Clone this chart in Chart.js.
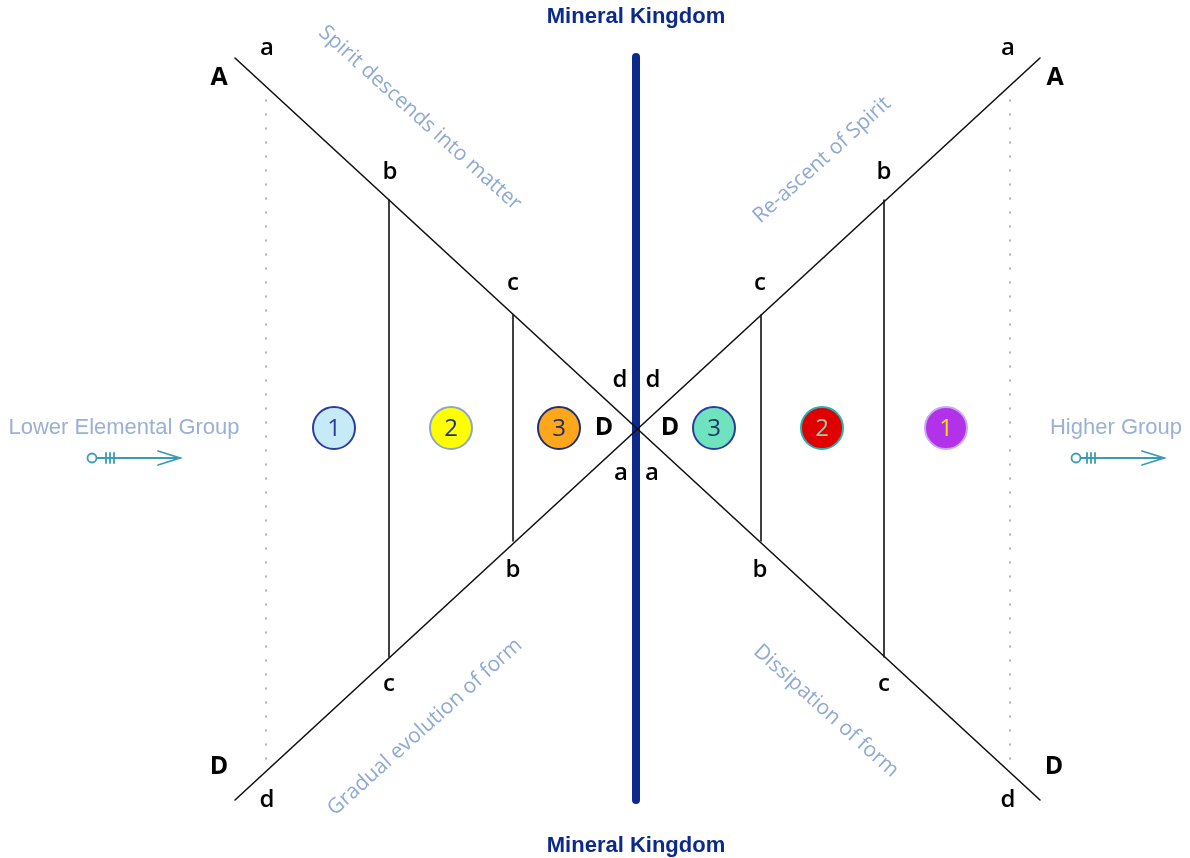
<!DOCTYPE html>
<html>
<head>
<meta charset="utf-8">
<script src="https://cdn.jsdelivr.net/npm/chart.js@4"></script>
<style>
  html, body { margin: 0; padding: 0; background: #fff; }
  #wrap { width: 1190px; height: 858px; }
</style>
</head>
<body>
<div id="wrap"><canvas id="diagram"></canvas></div>
<script>
// diagram units: centre of the cross is (0,0), y up
const descLine = [{x: -401, y: 370}, {x: 404, y: -372}];
const ascLine = [{x: -401, y: -372}, {x: 404, y: 370}];
const rungX = [-247, -123, 125, 248];
const rungTop = [228, 113, 113, 228];
const rungBottom = [-229, -113, -113, -229];
const dottedX = [-370, 374];
const dottedTop = 328, dottedBottom = -332;
const axisLine = [{x: 0, y: 371}, {x: 0, y: -372}];

const circleX = [-302, -185, -77, 78, 186, 310];
const circleNums = ['1', '2', '3', '3', '2', '1'];
const circleFill = ['#c6eaf8', '#ffff00', '#ffa71c', '#6fe3bf', '#e00000', '#b232e9'];
const circleEdge = ['#2b3c9c', '#8ea6c8', '#1f3170', '#2b3c9c', '#22b3b3', '#c9a8f2'];
const circleText = ['#2a3a98', '#1f2f80', '#1f2f60', '#1f3a60', '#a2c9ab', '#f8e400'];

const letters = ['A', 'a', 'b', 'c', 'd', 'd', 'D', 'D', 'a', 'a', 'b', 'c', 'D', 'd',
                 'a', 'A', 'b', 'c', 'b', 'c', 'D', 'd'];
const letterX = [-417, -369, -246, -123, -16, 17, -32, 34, -15, 16, -123, -247, -417, -369,
                 372, 419, 248, 124, 124, 248, 418, 372];
const letterY = [350, 380, 256, 145, 48, 48, 0, 0, -45, -45, -142, -256, -339, -372,
                 380, 350, 256, 145, -142, -256, -339, -372];

const slantText = ['Spirit descends into matter', 'Re-ascent of Spirit', 'Gradual evolution of form', 'Dissipation of form'];
const slantX = [-216, 186, -211, 190];
const slantY = [310, 268, -299, -283];
const slantAngle = [42, -42, -42, 42];

const sideText = ['Lower Elemental Group', 'Higher Group'];
const sideX = [-512, 480];
const arrowStart = [-544, 440];
const arrowEnd = [-456, 528];
const arrowTicks = [[-530, -526, -522], [451, 455, 459]];
const arrowY = -30;

const kingdomText = 'Mineral Kingdom';
const kingdomY = [411, -418];

const navy = '#0b2a8c';
const paleBlue = '#8ea9d2';
const teal = '#3b9bb4';

function seg(x1, y1, x2, y2) {
    return [{x: x1, y: y1}, {x: x2, y: y2}];
}

const datasets = [];
function addLine(data, color, width, dash) {
    datasets.push({
        data: data, showLine: true, pointRadius: 0, borderColor: color,
        borderWidth: width, borderDash: dash || [], fill: false, borderCapStyle: 'round'
    });
}

addLine(descLine, '#111', 1.6);
addLine(ascLine, '#111', 1.6);
rungX.forEach(function(x, i) {
    addLine(seg(x, rungTop[i], x, rungBottom[i]), '#111', 1.6);
});
dottedX.forEach(function(x) {
    addLine(seg(x, dottedTop, x, dottedBottom), '#9a9a9a', 1.5, [1, 13]);
});
addLine(axisLine, navy, 8);

// arrows
arrowStart.forEach(function(x0, i) {
    addLine(seg(x0 + 5, arrowY, arrowEnd[i], arrowY), teal, 1.8);
    arrowTicks[i].forEach(function(tx) {
        addLine(seg(tx, arrowY + 5, tx, arrowY - 5), teal, 1.8);
    });
    addLine([{x: arrowEnd[i] - 22, y: arrowY + 7}, {x: arrowEnd[i], y: arrowY}, {x: arrowEnd[i] - 22, y: arrowY - 7}], teal, 1.8);
});
datasets.push({
    data: arrowStart.map(function(x) { return {x: x, y: arrowY}; }),
    showLine: false, pointRadius: 4.5, pointBackgroundColor: '#fff',
    pointBorderColor: teal, pointBorderWidth: 1.8
});

// numbered circles
datasets.push({
    data: circleX.map(function(x) { return {x: x, y: 0}; }),
    showLine: false, pointRadius: 21,
    pointBackgroundColor: circleFill, pointBorderColor: circleEdge, pointBorderWidth: 2
});

const textPlugin = {
    id: 'texts',
    afterDatasetsDraw(chart) {
        const ctx = chart.ctx;
        const xs = chart.scales.x, ys = chart.scales.y;
        ctx.save();
        ctx.textAlign = 'center';
        ctx.textBaseline = 'middle';

        ctx.font = '24px "Open Sans"';
        circleX.forEach(function(x, i) {
            ctx.fillStyle = circleText[i];
            ctx.fillText(circleNums[i], xs.getPixelForValue(x), ys.getPixelForValue(0) + 1);
        });

        ctx.fillStyle = '#000';
        letters.forEach(function(l, i) {
            ctx.font = (l == l.toUpperCase() ? 'bold 25px' : '600 24px') + ' "Open Sans"';
            ctx.fillText(l, xs.getPixelForValue(letterX[i]), ys.getPixelForValue(letterY[i]));
        });

        ctx.fillStyle = paleBlue;
        ctx.font = '21px "Open Sans"';
        slantText.forEach(function(t, i) {
            ctx.save();
            ctx.translate(xs.getPixelForValue(slantX[i]), ys.getPixelForValue(slantY[i]));
            ctx.rotate(slantAngle[i] * Math.PI / 180);
            ctx.fillText(t, 0, 0);
            ctx.restore();
        });

        ctx.font = '22px "Liberation Sans"';
        ctx.fillStyle = '#9ab0d4';
        sideText.forEach(function(t, i) {
            ctx.fillText(t, xs.getPixelForValue(sideX[i]), ys.getPixelForValue(0));
        });

        ctx.font = 'bold 22px "Liberation Sans"';
        ctx.fillStyle = navy;
        kingdomY.forEach(function(y) {
            ctx.fillText(kingdomText, xs.getPixelForValue(0), ys.getPixelForValue(y));
        });
        ctx.restore();
    }
};

new Chart('diagram', {
    type: 'scatter',
    data: { datasets: datasets },
    options: {
        responsive: true,
        maintainAspectRatio: false,
        animation: false,
        layout: { padding: 0, autoPadding: false },
        scales: {
            x: { type: 'linear', min: -636, max: 554, display: false },
            y: { type: 'linear', min: -430, max: 428, display: false }
        },
        plugins: {
            legend: { display: false },
            tooltip: { enabled: false }
        }
    },
    plugins: [textPlugin]
});
</script>
</body>
</html>
